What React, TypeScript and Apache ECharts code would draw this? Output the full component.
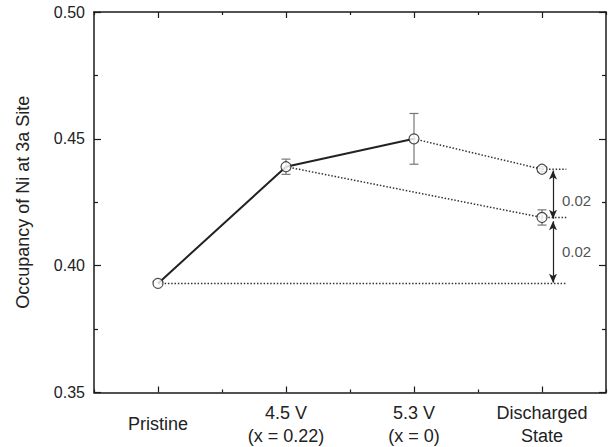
import React, { useEffect, useRef } from "react";
import * as echarts from "echarts";

const categories = ["Pristine", "4.5 V\n(x = 0.22)", "5.3 V\n(x = 0)", "Discharged\nState"];
// main (solid) path: Pristine -> 4.5 V -> 5.3 V
const mainValues = [0.393, 0.439, 0.45];
const mainErrors = [0, 0.003, 0.01];
// discharged state values
const dischargedUpper = 0.438; // from 5.3 V
const dischargedUpperErr = 0.001;
const dischargedLower = 0.419; // from 4.5 V
const dischargedLowerErr = 0.003;
const yTicks = [0.35, 0.4, 0.45, 0.5];
const diffLabels = ["0.02", "0.02"];
const guideEnd = 3.19; // end of dotted reference guides (x in category units)
const arrowX = 3.086;

const FONT = "'Liberation Sans', Arial, Helvetica, sans-serif";
const INK = "#1a1a1a";

export default function App() {
  const ref = useRef<HTMLDivElement>(null);
  useEffect(() => {
    if (!ref.current) return;
    const chart = echarts.init(ref.current, undefined, { renderer: "svg" });
    const dIdx = categories.length - 1;
    const VX = 4; // index of hidden value x axis used by series

    const errData = [
      ...mainValues.map((v, i) => [i, v - mainErrors[i], v + mainErrors[i]]).filter((d, i) => mainErrors[i] > 0),
      [dIdx, dischargedUpper - dischargedUpperErr, dischargedUpper + dischargedUpperErr],
      [dIdx, dischargedLower - dischargedLowerErr, dischargedLower + dischargedLowerErr],
    ];
    const points = [
      ...mainValues.map((v, i) => [i, v]),
      [dIdx, dischargedUpper],
      [dIdx, dischargedLower],
    ];
    const dotted = { color: "#333", width: 1.5, type: [1.5, 1.8] as any };

    const yCommon = {
      type: "value",
      min: yTicks[0],
      max: yTicks[yTicks.length - 1],
      interval: 0.05,
      axisLine: { show: true, onZero: false, lineStyle: { color: INK, width: 1.5 } },
      axisTick: { show: true, inside: true, length: 7, lineStyle: { color: INK, width: 1.2 } },
      minorTick: { show: true, splitNumber: 2, length: 4, lineStyle: { color: INK, width: 1.2 } },
      splitLine: { show: false },
    };
    const catMajor = (position: string, labels: boolean) => ({
      type: "category",
      data: categories,
      position,
      boundaryGap: true,
      axisLine: { show: true, onZero: false, lineStyle: { color: INK, width: 1.5 } },
      axisTick: { show: true, inside: true, alignWithLabel: true, length: 6, lineStyle: { color: INK, width: 1.2 } },
      axisLabel: labels
        ? {
            show: true,
            interval: 0,
            fontSize: 18,
            fontFamily: FONT,
            color: "#222",
            verticalAlign: "middle",
            lineHeight: 23,
            margin: 31.5,
          }
        : { show: false },
      splitLine: { show: false },
    });
    const catMinor = (position: string) => ({
      type: "category",
      data: categories,
      position,
      boundaryGap: true,
      axisLine: { show: false, onZero: false },
      axisTick: { show: true, inside: true, alignWithLabel: false, length: 3, lineStyle: { color: INK, width: 1.2 } },
      axisLabel: { show: false },
      splitLine: { show: false },
    });

    const option: any = {
      animation: false,
      textStyle: { fontFamily: FONT },
      grid: { left: 94, right: 3, top: 12, bottom: 54, containLabel: false },
      xAxis: [
        catMajor("bottom", true),
        catMinor("bottom"),
        catMajor("top", false),
        catMinor("top"),
        { type: "value", min: -0.5, max: 3.5, show: false, axisLine: { onZero: false } },
      ],
      yAxis: [
        {
          ...yCommon,
          position: "left",
          axisLabel: {
            fontSize: 16,
            fontFamily: FONT,
            color: "#222",
            margin: 9,
            formatter: (v: number) => v.toFixed(2),
          },
          name: "Occupancy of Ni at 3a Site",
          nameLocation: "middle",
          nameGap: 62,
          nameTextStyle: { fontSize: 18, fontFamily: FONT, color: "#222" },
        },
        {
          ...yCommon,
          position: "right",
          axisLabel: { show: false },
        },
      ],
      series: [
        {
          type: "line",
          xAxisIndex: VX,
          yAxisIndex: 0,
          data: mainValues.map((v, i) => [i, v]),
          symbol: "none",
          lineStyle: { color: "#222", width: 2 },
          z: 3,
        },
        {
          type: "line",
          xAxisIndex: VX,
          yAxisIndex: 0,
          data: [[2, mainValues[2]], [dIdx, dischargedUpper], [guideEnd, dischargedUpper]],
          symbol: "none",
          lineStyle: dotted,
          z: 2,
        },
        {
          type: "line",
          xAxisIndex: VX,
          yAxisIndex: 0,
          data: [[1, mainValues[1]], [dIdx, dischargedLower], [guideEnd, dischargedLower]],
          symbol: "none",
          lineStyle: dotted,
          z: 2,
        },
        {
          type: "line",
          xAxisIndex: VX,
          yAxisIndex: 0,
          data: [[0, mainValues[0]], [guideEnd, mainValues[0]]],
          symbol: "none",
          lineStyle: dotted,
          z: 2,
        },
        {
          type: "custom",
          xAxisIndex: VX,
          yAxisIndex: 0,
          data: errData,
          z: 4,
          renderItem: (params: any, api: any) => {
            const x = api.value(0);
            const lo = api.coord([x, api.value(1)]);
            const hi = api.coord([x, api.value(2)]);
            const cap = 4.5;
            const style = { stroke: "#777", lineWidth: 1.2, fill: "none" };
            return {
              type: "group",
              children: [
                { type: "line", shape: { x1: lo[0], y1: lo[1], x2: hi[0], y2: hi[1] }, style },
                { type: "line", shape: { x1: lo[0] - cap, y1: lo[1], x2: lo[0] + cap, y2: lo[1] }, style },
                { type: "line", shape: { x1: hi[0] - cap, y1: hi[1], x2: hi[0] + cap, y2: hi[1] }, style },
              ],
            };
          },
        },
        {
          type: "scatter",
          xAxisIndex: VX,
          yAxisIndex: 0,
          data: points,
          symbol: "circle",
          symbolSize: 10,
          itemStyle: { color: "#fff", borderColor: "#222", borderWidth: 1.2 },
          z: 6,
          markLine: {
            silent: true,
            symbol: ["arrow", "arrow"],
            symbolSize: [6, 9],
            label: { show: false },
            lineStyle: { color: "#222", width: 1.2, type: "solid" },
            data: [
              [{ coord: [arrowX, dischargedUpper - 0.0005] }, { coord: [arrowX, dischargedLower - 0.0005] }],
              [{ coord: [arrowX, dischargedLower - 0.0015] }, { coord: [arrowX, mainValues[0] + 0.0003] }],
            ],
          },
        },
        {
          type: "scatter",
          xAxisIndex: VX,
          yAxisIndex: 0,
          symbolSize: 0,
          data: [
            { value: [arrowX, 0.4255], label: { formatter: diffLabels[0] } },
            { value: [arrowX, 0.4055], label: { formatter: diffLabels[1] } },
          ],
          label: { show: true, position: "right", distance: 9, fontSize: 15, fontFamily: FONT, color: "#222" },
          z: 7,
        },
      ],
    };
    chart.setOption(option);
    return () => chart.dispose();
  }, []);
  return (
    <div
      ref={ref}
      style={{ position: "absolute", left: 0, top: 0, width: 609, height: 447, background: "#fff" }}
    />
  );
}
